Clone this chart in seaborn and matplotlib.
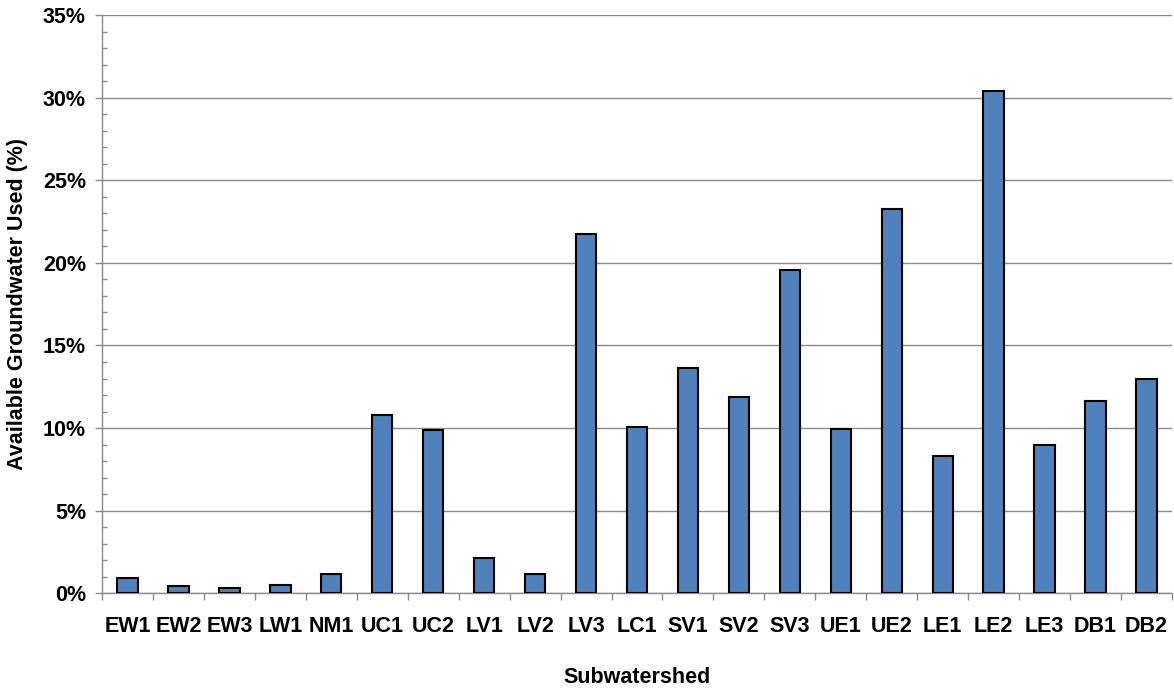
import matplotlib
matplotlib.use("Agg")
import matplotlib.pyplot as plt
import seaborn as sns
import numpy as np
import pandas as pd
from matplotlib.ticker import MultipleLocator, FuncFormatter, FixedLocator

categories = ["EW1", "EW2", "EW3", "LW1", "NM1", "UC1", "UC2", "LV1", "LV2", "LV3",
              "LC1", "SV1", "SV2", "SV3", "UE1", "UE2", "LE1", "LE2", "LE3", "DB1", "DB2"]
values = [0.94, 0.46, 0.34, 0.52, 1.17, 10.81, 9.90, 2.12, 1.15, 21.73,
          10.07, 13.66, 11.88, 19.59, 9.93, 23.25, 8.29, 30.40, 9.00, 11.66, 12.95]

sns.set_theme(style="white")
plt.rcParams['font.family'] = ['Liberation Sans', 'DejaVu Sans']

df = pd.DataFrame({"Subwatershed": categories, "Used": values})

fig = plt.figure(figsize=(11.74, 6.89), dpi=100)
ax = fig.add_axes([102/1174, 1-593.3/689, (1172-102)/1174, (593.3-15)/689])

sns.barplot(data=df, x="Subwatershed", y="Used", color="#4F81BD", width=0.4,
            edgecolor="black", linewidth=1.5, saturation=1, ax=ax, zorder=3)

ax.set_ylim(0, 35)
ax.set_xlim(-0.5, len(categories) - 0.5)
ax.yaxis.set_major_locator(MultipleLocator(5))
ax.yaxis.set_minor_locator(MultipleLocator(1))
ax.yaxis.set_major_formatter(FuncFormatter(lambda v, p: f"{int(round(v))}%"))
ax.grid(axis="y", which="major", color="#8c8c8c", linewidth=1.0, zorder=0)
ax.set_axisbelow(True)

ax.xaxis.set_minor_locator(FixedLocator(np.arange(-0.5, len(categories), 1.0)))
ax.tick_params(axis="x", which="major", length=0, pad=16, labelsize=15.5, labelcolor="black")
ax.tick_params(axis="x", which="minor", length=5, width=1, color="#8c8c8c", direction="out", bottom=True)
ax.tick_params(axis="y", which="major", length=5, width=1, color="#8c8c8c", direction="out", left=True,
               labelsize=15.5, pad=6.5, labelcolor="black")
ax.tick_params(axis="y", which="minor", length=3.6, width=1, color="#8c8c8c", direction="in", left=True)

for lab in ax.get_xticklabels() + ax.get_yticklabels():
    lab.set_fontweight("bold")

for s in ["top", "right"]:
    ax.spines[s].set_visible(False)
for s in ["left", "bottom"]:
    ax.spines[s].set_color("#8c8c8c")
    ax.spines[s].set_linewidth(1.0)

ax.set_xlabel("Subwatershed", fontsize=15.5, fontweight="bold", labelpad=22, color="black")
ax.set_ylabel("Available Groundwater Used (%)", fontsize=15.5, fontweight="bold", labelpad=11, color="black")

fig.savefig("out.png", dpi=100)
